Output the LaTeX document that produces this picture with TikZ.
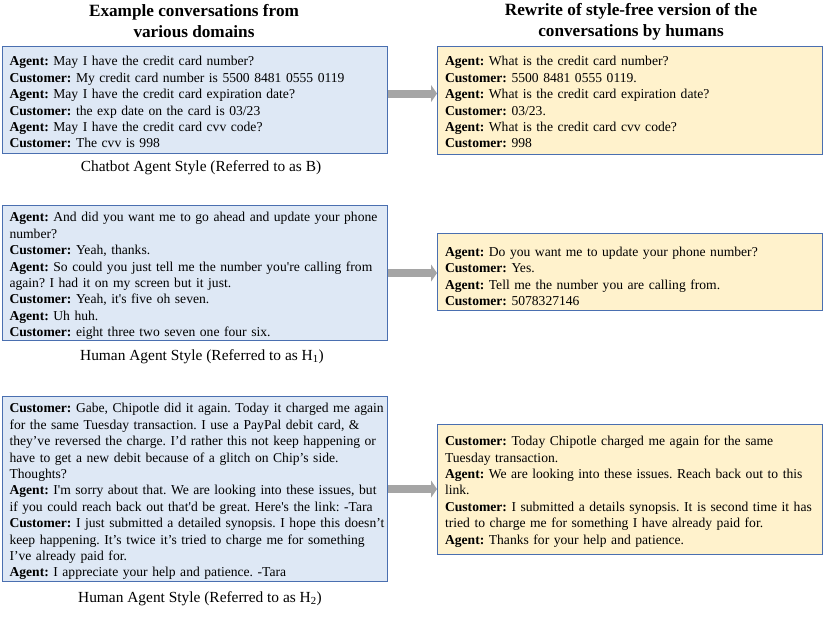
\documentclass[tikz,border=0pt]{standalone}
\usepackage{fontspec}
\setmainfont{Liberation Serif}
\usetikzlibrary{arrows.meta}
\definecolor{bluefill}{HTML}{DEE8F5}
\definecolor{yelfill}{HTML}{FFF2CC}
\definecolor{boxline}{HTML}{4A6FB0}
\definecolor{arrowgray}{HTML}{A5A5A5}
\newcommand\AgentL{\textbf{Agent:}}
\newcommand\CustL{\textbf{Customer:}}
\newcommand\sq{\textquotesingle}
\newcommand\convlines[2][3]{\raisebox{-#1pt}[\height][\depth]{\begin{tabular}{@{}l@{}}#2\end{tabular}}}
\frenchspacing
\tikzset{
  convbox/.style={draw=boxline, line width=1.1pt, rectangle, anchor=north west,
    align=left, inner xsep=7pt, inner ysep=1pt,
    font=\fontsize{13.6}{16.4}\selectfont\frenchspacing},
  bluebox/.style={convbox, fill=bluefill, text width=371pt, minimum width=385pt},
  yelbox/.style={convbox, fill=yelfill, text width=370pt, minimum width=385pt},
  headtxt/.style={align=center, font=\fontsize{17.2}{21}\selectfont\bfseries},
  captxt/.style={font=\fontsize{15.4}{18}\selectfont},
  bigarrow/.style={draw=arrowgray, line width=8pt, -{Triangle[length=6pt 0 0,width=17pt 0 0]}}
}
\begin{document}
\begin{tikzpicture}[x=1pt,y=1pt]
\useasboundingbox (0,0) rectangle (830,-623);

\node[headtxt] (h1) at (194,-21.5) {Example conversations from\\various domains};
\node[headtxt] (h2) at (631,-21.5) {Rewrite of style-free version of the\\conversations by humans};

% row 1
\node[bluebox, minimum height=107pt] (b1) at (2,-46) {\convlines[3.5]{%
\AgentL{} May I have the credit card number?\\
\CustL{} My credit card number is 5500 8481 0555 0119\\
\AgentL{} May I have the credit card expiration date?\\
\CustL{} the exp date on the card is 03/23\\
\AgentL{} May I have the credit card cvv code?\\
\CustL{} The cvv is 998}};
\node[yelbox, minimum height=108pt] (b2) at (437,-46) {\convlines[3]{%
\AgentL{} What is the credit card number?\\
\CustL{} 5500 8481 0555 0119.\\
\AgentL{} What is the credit card expiration date?\\
\CustL{} 03/23.\\
\AgentL{} What is the credit card cvv code?\\
\CustL{} 998}};
\node[captxt] (c1) at (201,-168) {Chatbot Agent Style (Referred to as B)};

% row 2
\node[bluebox, minimum height=135pt] (b3) at (2,-205) {\convlines[3]{%
\AgentL{} And did you want me to go ahead and update your phone\\
number?\\
\CustL{} Yeah, thanks.\\
\AgentL{} So could you just tell me the number you\sq re calling from\\
again? I had it on my screen but it just.\\
\CustL{} Yeah, it\sq s five oh seven.\\
\AgentL{} Uh huh.\\
\CustL{} eight three two seven one four six.}};
\node[yelbox, minimum height=77pt] (b4) at (437,-233) {\convlines[5.5]{%
\AgentL{} Do you want me to update your phone number?\\
\CustL{} Yes.\\
\AgentL{} Tell me the number you are calling from.\\
\CustL{} 5078327146}};
\node[captxt] (c2) at (202,-357) {Human Agent Style (Referred to as H\textsubscript{1})};

% row 3
\node[bluebox, minimum height=185pt] (b5) at (2,-396) {\convlines[2.5]{%
\CustL{} Gabe, Chipotle did it again. Today it charged me again\\
for the same Tuesday transaction. I use a PayPal debit card, \&\\
they’ve reversed the charge. I’d rather this not keep happening or\\
have to get a new debit because of a glitch on Chip’s side.\\
Thoughts?\\
\AgentL{} I\sq m sorry about that. We are looking into these issues, but\\
if you could reach back out that\sq d be great. Here\sq s the link: -Tara\\
\CustL{} I just submitted a detailed synopsis. I hope this doesn’t\\
keep happening. It’s twice it’s tried to charge me for something\\
I’ve already paid for.\\
\AgentL{} I appreciate your help and patience. -Tara}};
\node[yelbox, minimum height=130pt] (b6) at (437,-424) {\convlines[2]{%
\CustL{} Today Chipotle charged me again for the same\\
Tuesday transaction.\\
\AgentL{} We are looking into these issues. Reach back out to this\\
link.\\
\CustL{} I submitted a details synopsis. It is second time it has\\
tried to charge me for something I have already paid for.\\
\AgentL{} Thanks for your help and patience.}};
\node[captxt] (c3) at (200,-599) {Human Agent Style (Referred to as H\textsubscript{2})};

% arrows
\coordinate (a1) at ([yshift=6.5pt]b1.east);
\draw[bigarrow] (a1) -- (a1 -| b2.west);
\draw[bigarrow] (b3.east) -- (b3.east -| b4.west);
\draw[bigarrow] (b5.east) -- (b5.east -| b6.west);
\end{tikzpicture}
\end{document}
